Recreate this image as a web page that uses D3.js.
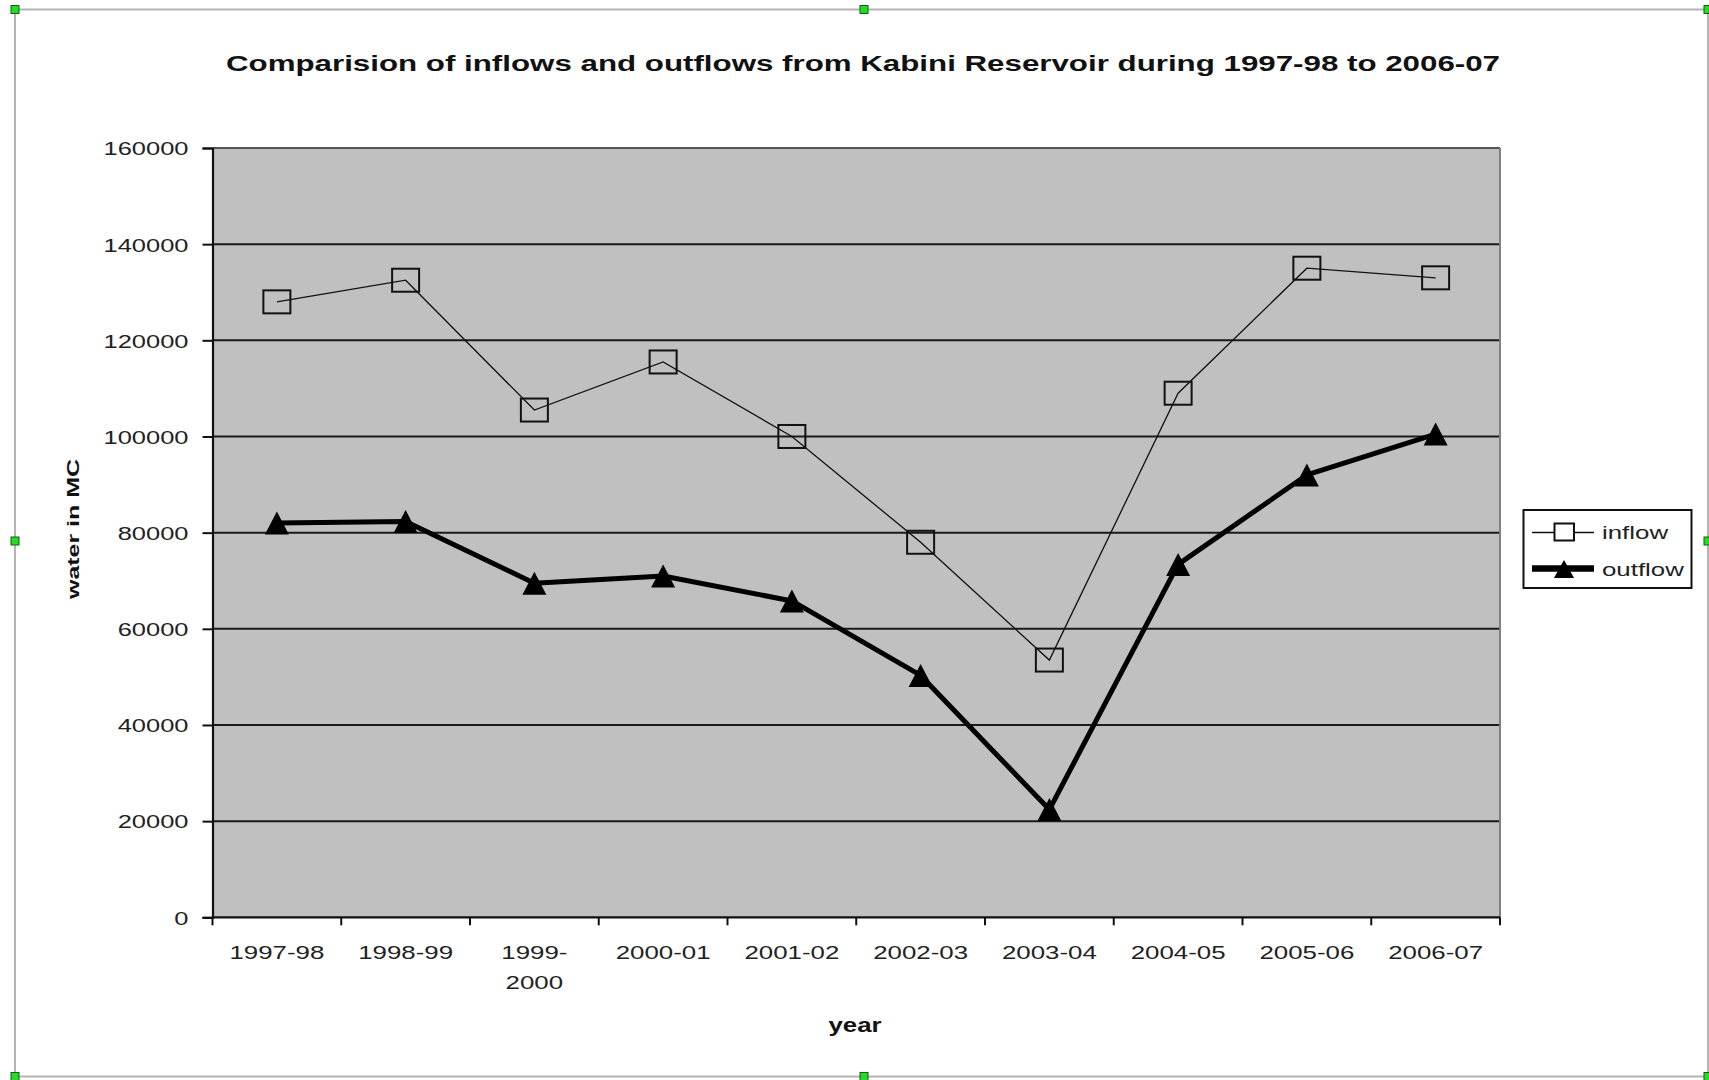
<!DOCTYPE html>
<html>
<head>
<meta charset="utf-8">
<script src="https://cdn.jsdelivr.net/npm/d3@7"></script>
<style>
  html, body { margin: 0; padding: 0; background: #ffffff; }
  svg { display: block; }
  text { font-family: "Liberation Sans", Arial, sans-serif; fill: #222; }
</style>
</head>
<body>
<svg id="chart" width="1709" height="1080"></svg>
<script>
const years = ["1997-98","1998-99","1999-\n2000","2000-01","2001-02","2002-03","2003-04","2004-05","2005-06","2006-07"];
const inflow = [128000, 132500, 105500, 115500, 100000, 78000, 53500, 109000, 135000, 133000];
const outflow = [82000, 82300, 69500, 71000, 65800, 50300, 22400, 73400, 92000, 100500];
const yTicks = [0, 20000, 40000, 60000, 80000, 100000, 120000, 140000, 160000];
const titleText = "Comparision of inflows and outflows from Kabini Reservoir  during 1997-98 to 2006-07";
const seriesNames = ["inflow", "outflow"];

const svg = d3.select("#chart");
const plot = {left: 212.5, right: 1500, top: 148, bottom: 917.3};

// widen text glyphs like the original rendering
function stretch(sel, factor) {
  sel.each(function() {
    const w = this.getComputedTextLength();
    if (w > 0) d3.select(this).attr("textLength", w * factor).attr("lengthAdjust", "spacingAndGlyphs");
  });
}

// outer chart frame
svg.append("rect").attr("x", 15).attr("y", 9.5).attr("width", 1693).attr("height", 1067)
  .attr("fill", "#fff").attr("stroke", "#b4b4b4").attr("stroke-width", 2);

// title
const title = svg.append("text").attr("x", 863).attr("y", 71).attr("text-anchor", "middle")
  .attr("font-size", 22).attr("font-weight", "bold").style("fill", "#111").text(titleText);
title.attr("textLength", 1274).attr("lengthAdjust", "spacingAndGlyphs");

const x = d3.scaleBand().domain(years).range([plot.left, plot.right]);
const y = d3.scaleLinear().domain([0, 160000]).range([plot.bottom, plot.top]);

// plot area background
svg.append("rect").attr("x", plot.left).attr("y", plot.top)
  .attr("width", plot.right - plot.left).attr("height", plot.bottom - plot.top)
  .attr("fill", "#c0c0c0");

// gridlines
svg.append("g").selectAll("line").data(yTicks.filter(d => d > 0 && d < 160000)).join("line")
  .attr("x1", plot.left).attr("x2", plot.right)
  .attr("y1", d => y(d)).attr("y2", d => y(d))
  .attr("stroke", "#1a1a1a").attr("stroke-width", 2);

// plot border top/right
svg.append("line").attr("x1", plot.left).attr("x2", plot.right).attr("y1", plot.top).attr("y2", plot.top)
  .attr("stroke", "#555").attr("stroke-width", 2);
svg.append("line").attr("x1", plot.right).attr("x2", plot.right).attr("y1", plot.top).attr("y2", plot.bottom)
  .attr("stroke", "#808080").attr("stroke-width", 2);

// y axis
const yAxis = svg.append("g").attr("transform", `translate(${plot.left},0)`)
  .call(d3.axisLeft(y).tickValues(yTicks).tickSize(10).tickPadding(14).tickFormat(d3.format("d")));
yAxis.select(".domain").attr("stroke", "#111").attr("stroke-width", 2.2);
yAxis.selectAll(".tick line").attr("stroke", "#111").attr("stroke-width", 2);
yAxis.selectAll(".tick text").attr("font-size", 19).style("fill", "#222")
  .attr("font-family", "Liberation Sans, Arial, sans-serif").attr("dy", "0.36em");
stretch(yAxis.selectAll(".tick text"), 1.34);

// x axis: ticks between categories
const xAxis = svg.append("g").attr("transform", `translate(0,${plot.bottom})`);
xAxis.append("line").attr("x1", plot.left).attr("x2", plot.right).attr("y1", 0).attr("y2", 0)
  .attr("stroke", "#111").attr("stroke-width", 2.2);
const boundaries = years.map(d => x(d)).concat([x(years[years.length - 1]) + x.bandwidth()]);
xAxis.selectAll("line.tk").data(boundaries).join("line").attr("class", "tk")
  .attr("x1", d => d).attr("x2", d => d).attr("y1", 0).attr("y2", 8)
  .attr("stroke", "#111").attr("stroke-width", 2);
const xl = xAxis.selectAll("text.xl").data(years).join("text").attr("class", "xl")
  .attr("x", d => x(d) + x.bandwidth() / 2).attr("y", 42)
  .attr("text-anchor", "middle").attr("font-size", 19).style("fill", "#222");
xl.each(function(d) {
  const parts = d.split("\n");
  const t = d3.select(this);
  parts.forEach((p, i) => {
    t.append("tspan").attr("x", x(d) + x.bandwidth() / 2).attr("dy", i === 0 ? 0 : 29.5).text(p);
  });
});
xl.selectAll("tspan").each(function() {
  const w = this.getComputedTextLength();
  d3.select(this).attr("textLength", w * 1.36).attr("lengthAdjust", "spacingAndGlyphs");
});

// axis titles
const yl = svg.append("text").attr("transform", "translate(79,529) rotate(-90)")
  .attr("text-anchor", "middle").attr("font-size", 16).attr("font-weight", "bold")
  .style("fill", "#111").text("water in MC");
stretch(yl, 1.56);
const xt = svg.append("text").attr("x", 855).attr("y", 1032).attr("text-anchor", "middle")
  .attr("font-size", 20).attr("font-weight", "bold").style("fill", "#111").text("year");
stretch(xt, 1.29);

// lines
const cx = (d, i) => x(years[i]) + x.bandwidth() / 2;
const line = d3.line().x(cx).y(d => y(d));
svg.append("path").datum(inflow).attr("d", line).attr("fill", "none")
  .attr("stroke", "#111").attr("stroke-width", 1.3);
svg.append("path").datum(outflow).attr("d", line).attr("fill", "none")
  .attr("stroke", "#000").attr("stroke-width", 5).attr("stroke-linejoin", "round");

// markers
const sqW = 27, sqH = 23;
svg.append("g").selectAll("rect").data(inflow).join("rect")
  .attr("x", (d, i) => cx(d, i) - sqW / 2).attr("y", d => y(d) - sqH / 2)
  .attr("width", sqW).attr("height", sqH)
  .attr("fill", "none").attr("stroke", "#111").attr("stroke-width", 2);
const triW = 24, triH = 23;
const tri = `M0,${-triH/2} L${triW/2},${triH/2} L${-triW/2},${triH/2} Z`;
svg.append("g").selectAll("path").data(outflow).join("path")
  .attr("transform", (d, i) => `translate(${cx(d, i)},${y(d)})`)
  .attr("d", tri).attr("fill", "#000");

// legend
const lg = svg.append("g");
lg.append("rect").attr("x", 1523.5).attr("y", 510).attr("width", 168).attr("height", 78)
  .attr("fill", "#fff").attr("stroke", "#111").attr("stroke-width", 2);
lg.append("line").attr("x1", 1532).attr("x2", 1594).attr("y1", 532.5).attr("y2", 532.5)
  .attr("stroke", "#111").attr("stroke-width", 1.5);
lg.append("rect").attr("x", 1554.5).attr("y", 523.5).attr("width", 19.5).attr("height", 17)
  .attr("fill", "#fff").attr("stroke", "#111").attr("stroke-width", 2);
lg.append("line").attr("x1", 1532).attr("x2", 1594).attr("y1", 568.5).attr("y2", 568.5)
  .attr("stroke", "#000").attr("stroke-width", 6.5);
lg.append("path").attr("transform", "translate(1564,569)")
  .attr("d", "M0,-9 L10,9 L-10,9 Z").attr("fill", "#000");
const lt = lg.selectAll("text").data(seriesNames).join("text")
  .attr("x", 1602).attr("y", (d, i) => i === 0 ? 539 : 576)
  .attr("font-size", 19).style("fill", "#222").text(d => d);
stretch(lt, 1.36);

// selection handles
const hx = [15, 864, 1708], hy = [9.5, 541, 1076.5];
const handles = [];
hx.forEach(a => hy.forEach(b => { if (!(a === 864 && b === 541)) handles.push([a, b]); }));
svg.append("g").selectAll("rect").data(handles).join("rect")
  .attr("x", d => d[0] - 4).attr("y", d => d[1] - 4).attr("width", 8).attr("height", 8)
  .attr("fill", "#22dd22").attr("stroke", "#135c13").attr("stroke-width", 1);
</script>
</body>
</html>
